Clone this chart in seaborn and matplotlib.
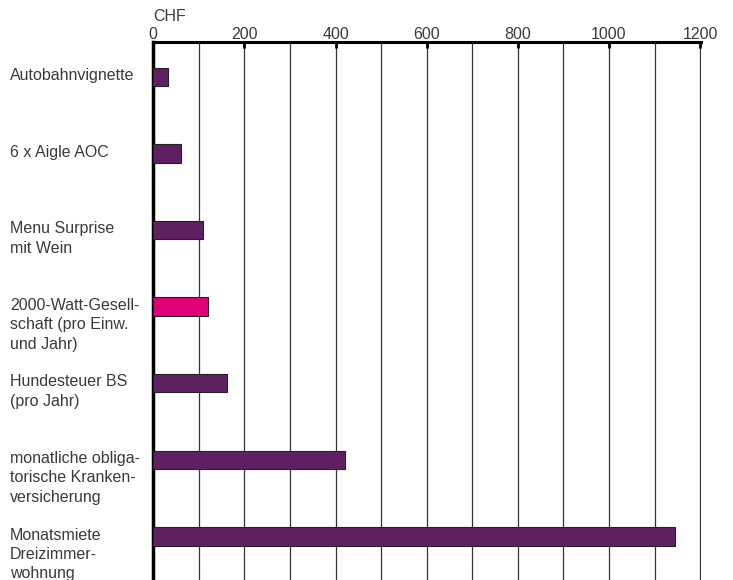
import matplotlib
matplotlib.use("Agg")
import matplotlib.pyplot as plt
import seaborn as sns
import pandas as pd
from matplotlib.ticker import MultipleLocator

categories = [
    "Autobahnvignette",
    "6 x Aigle AOC",
    "Menu Surprise\nmit Wein",
    "2000-Watt-Gesell-\nschaft (pro Einw.\nund Jahr)",
    "Hundesteuer BS\n(pro Jahr)",
    "monatliche obliga-\ntorische Kranken-\nversicherung",
    "Monatsmiete\nDreizimmer-\nwohnung",
]
values = [32, 60, 108, 120, 161, 420, 1145]
colors = ["#5f2062", "#5f2062", "#5f2062", "#e2007a", "#5f2062", "#5f2062", "#5f2062"]
tick_values = [0, 200, 400, 600, 800, 1000, 1200]
unit_label = "CHF"

sns.set_theme(style="white")
plt.rcParams['font.family'] = ['Liberation Sans', 'DejaVu Sans']

fig = plt.figure(figsize=(7.33, 5.80), dpi=100)
ax = fig.add_axes([153.3 / 733, 0.0, (701 - 153.3) / 733, (580 - 42) / 580])

df = pd.DataFrame({"cat": categories, "val": values})
sns.barplot(data=df, x="val", y="cat", hue="cat", palette=colors, legend=False,
            saturation=1, width=0.24, edgecolor="#222222", linewidth=0.8, ax=ax, zorder=3)

ax.set_xlim(0, 1202)
ax.set_ylim(6.57, -0.457)
ax.xaxis.set_minor_locator(MultipleLocator(100))
ax.set_xticks(tick_values)
ax.set_xticklabels([str(v) for v in tick_values])
ax.xaxis.tick_top()
ax.tick_params(axis="x", which="major", direction="in", length=4, width=2,
               color="black", labelsize=11.5, labelcolor="#3a3a3a", pad=0, top=True, bottom=False)
ax.tick_params(axis="x", which="minor", length=0)
ax.set_yticks([])
ax.set_xlabel("")
ax.set_ylabel("")

ax.grid(True, axis="x", which="both", color="#333333", linewidth=0.9, zorder=0)
ax.set_axisbelow(True)

for s in ["right", "bottom"]:
    ax.spines[s].set_visible(False)
ax.spines["top"].set_linewidth(2.2)
ax.spines["top"].set_color("black")
ax.spines["left"].set_linewidth(2.5)
ax.spines["left"].set_color("black")

ytrans = ax.get_yaxis_transform()
xw = 701 - 153.3
for i, lab in enumerate(categories):
    ax.text((10 - 153.3) / xw, i - 0.115, lab, transform=ytrans,
            ha="left", va="top", fontsize=11.5, color="#3a3a3a", linespacing=1.37)

ax.text(0, 1.0 + 18 / 538, unit_label, transform=ax.transAxes, ha="left", va="bottom",
        fontsize=11.5, color="#3a3a3a")

fig.savefig("out.png", dpi=100)
